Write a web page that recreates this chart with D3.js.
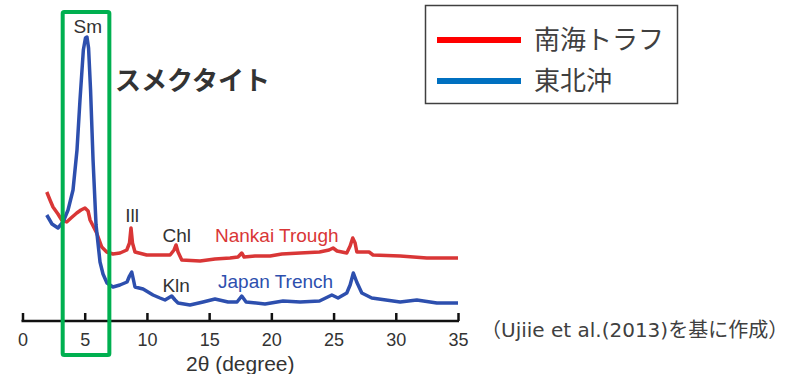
<!DOCTYPE html>
<html><head><meta charset="utf-8">
<script src="https://cdn.jsdelivr.net/npm/d3@7/dist/d3.min.js"></script>
<style>html,body{margin:0;padding:0;background:#fff;}svg{display:block;}</style>
</head><body>
<svg id="c" width="787" height="374"></svg>
<script>
// 2θ (degree) and intensity (arbitrary units)
const nankaiTheta = [1.95,2.21,2.45,2.85,3.15,3.55,3.90,4.36,4.70,5.02,5.27,5.43,5.96,6.37,6.77,7.27,7.84,8.38,8.60,8.72,8.84,9.04,9.98,11.05,11.86,12.18,12.34,12.50,12.80,14.27,15.47,16.68,17.32,17.62,17.81,18.69,19.90,20.84,22.31,23.87,24.64,24.96,25.28,26.06,26.33,26.54,26.73,26.87,27.53,27.85,28.17,30.35,32.49,35.0];
const nankaiI = [129,121,114,107,101,99,103,108,111,113,110,101,88,74,69,67,68,71,78,93,78,69,66,66,66,71,76,69,61,60,62,63,64,68,64,65,65,67,68,69,71,73,70,68,75,83,78,69,69,69,66,65,63,63];
const japanTheta = [1.95,2.37,2.85,3.26,3.66,4.06,4.38,4.62,4.89,5.06,5.18,5.31,5.47,5.67,5.91,6.23,6.47,6.79,7.27,7.83,8.40,8.60,8.78,8.92,9.04,9.69,10.09,10.49,11.05,11.45,11.99,12.26,12.50,13.46,14.51,15.47,16.52,17.24,17.62,17.97,19.49,20.94,22.31,23.87,24.86,25.36,26.06,26.33,26.59,26.86,27.27,28.07,30.35,31.69,33.30,35.0];
const japanI = [106,97,93,99,111,131,171,221,271,283,284,273,231,161,96,59,47,38,34,36,39,45,49,41,34,32,29,26,23,21,25,21,18,16,19,22,19,19,25,19,17,20,19,20,26,23,28,36,48,39,28,23,19,21,18,18];
const xTicks = [0,5,10,15,20,25,30,35];
const peakLabels = ["Sm","Ill","Chl","Kln"];
const peakTheta = [5.25,8.8,12.4,12.35];
const peakI = [284,93,76,25];
const seriesNames = ["Nankai Trough","Japan Trench"];
const legendNames = ["南海トラフ","東北沖"];

const svg = d3.select("#c");
const x = d3.scaleLinear().domain([0,35]).range([22.5,458]);
const y = d3.scaleLinear().domain([0,300]).range([321,21]);

const line = d3.line().x(d=>x(d[0])).y(d=>y(d[1])).curve(d3.curveLinear);
const nankai = nankaiTheta.map((t,i)=>[t,nankaiI[i]]);
const japan = japanTheta.map((t,i)=>[t,japanI[i]]);

svg.append("path").datum(nankai).attr("d",line).attr("fill","none")
  .attr("stroke","#d93636").attr("stroke-width",3.5).attr("stroke-linejoin","round");
svg.append("path").datum(japan).attr("d",line).attr("fill","none")
  .attr("stroke","#2d4fae").attr("stroke-width",3.5).attr("stroke-linejoin","round");

// axis
const axis = d3.axisBottom(x).tickValues(xTicks).tickSize(0).tickPadding(0);
const ag = svg.append("g").attr("transform","translate(0,321)").call(axis);
ag.select(".domain").remove();
ag.append("line").attr("x1",x(0)-1).attr("x2",x(35)+1).attr("y1",0).attr("y2",0)
  .attr("stroke","#111").attr("stroke-width",2.5);
ag.selectAll(".tick line").attr("y1",0).attr("y2",-8).attr("stroke","#111").attr("stroke-width",2.5);
ag.selectAll(".tick text").attr("y",25).attr("dy",0).attr("fill","#333")
  .style("font-family","Liberation Sans, Arial, sans-serif").style("font-size","18px");

svg.append("text").attr("x",x(17.5)).attr("y",371).attr("text-anchor","middle")
  .attr("fill","#333").style("font-family","Liberation Sans, Arial, sans-serif").style("font-size","21px")
  .text("2θ (degree)");

// peak labels
const lblDy = [-4,-6,-3,-4];
peakLabels.forEach((l,i)=>{
  svg.append("text").attr("x",x(peakTheta[i])).attr("y",y(peakI[i])+lblDy[i])
    .attr("text-anchor","middle").attr("fill","#333")
    .style("font-family","Liberation Sans, Arial, sans-serif").style("font-size","19px").text(l);
});
// series labels
svg.append("text").attr("x",215).attr("y",242).attr("fill","#d93636")
  .style("font-family","Liberation Sans, Arial, sans-serif").style("font-size","19px").text(seriesNames[0]);
svg.append("text").attr("x",218).attr("y",288).attr("fill","#2d4fae")
  .style("font-family","Liberation Sans, Arial, sans-serif").style("font-size","19px").text(seriesNames[1]);

// green highlight
svg.append("rect").attr("x",x(3.23)).attr("y",12).attr("width",x(6.98)-x(3.23)).attr("height",343)
  .attr("fill","none").attr("stroke","#00b050").attr("stroke-width",4).attr("rx",1.5);

svg.append("text").attr("x",115).attr("y",90).attr("fill","#333")
  .style("font-family","Noto Sans CJK JP, sans-serif").style("font-size","26px").style("font-weight","bold")
  .text("スメクタイト");

// legend
svg.append("rect").attr("x",425.5).attr("y",5.5).attr("width",252).attr("height",98)
  .attr("fill","#fff").attr("stroke","#404040").attr("stroke-width",1.5);
const legColors = ["#ff0000","#0070c0"];
const legY = [40,81];
legendNames.forEach((n,i)=>{
  svg.append("line").attr("x1",437).attr("x2",521).attr("y1",legY[i]).attr("y2",legY[i])
    .attr("stroke",legColors[i]).attr("stroke-width",6);
  svg.append("text").attr("x",534).attr("y",legY[i]+9).attr("fill","#404040")
    .style("font-family","Noto Sans CJK JP, sans-serif").style("font-size","26px").text(n);
});

svg.append("text").attr("x",481).attr("y",337).attr("fill","#404040")
  .style("font-family","DejaVu Sans, Noto Sans CJK JP, sans-serif").style("font-size","20px")
  .text("（Ujiie et al.(2013)を基に作成）");
</script>
</body></html>
